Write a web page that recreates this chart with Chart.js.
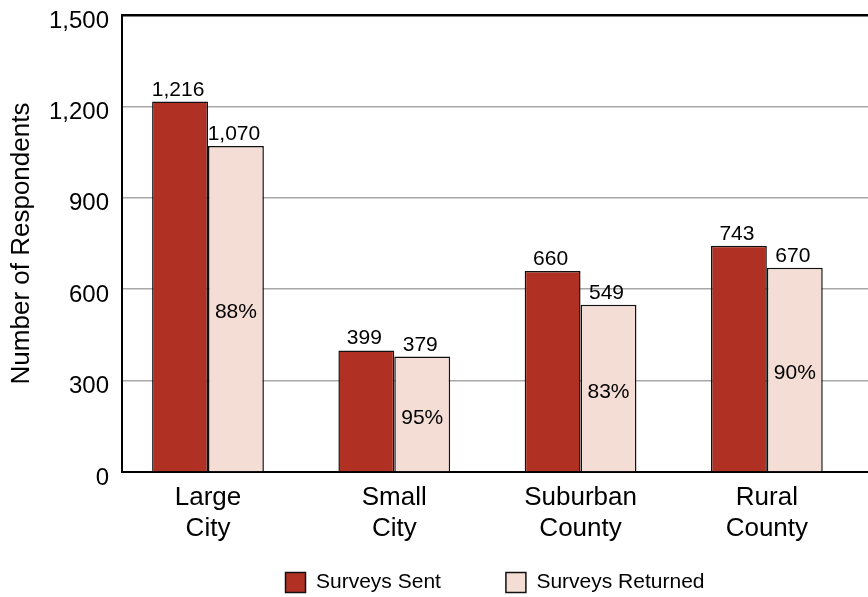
<!DOCTYPE html>
<html>
<head>
<meta charset="utf-8">
<script src="https://cdn.jsdelivr.net/npm/chart.js@4/dist/chart.umd.min.js"></script>
<style>
  html, body { margin: 0; padding: 0; background: #ffffff; }
  #wrap { width: 868px; height: 597px; position: relative; }
</style>
</head>
<body>
<div id="wrap"><canvas id="chart"></canvas></div>
<script>
// Survey counts by community type
const categories = [['Large', 'City'], ['Small', 'City'], ['Suburban', 'County'], ['Rural', 'County']];
const surveysSent = [1216, 399, 660, 743];
const surveysReturned = [1070, 379, 549, 670];
const yTicks = [0, 300, 600, 900, 1200, 1500];

const FONT = "'Liberation Sans', Arial, Helvetica, sans-serif";
const fmt = v => v.toLocaleString('en-US');

// Value labels above each bar, and the return rate inside the returned bars
const barLabels = {
  id: 'barLabels',
  afterDatasetsDraw(chart) {
    const ctx = chart.ctx;
    ctx.save();
    ctx.fillStyle = '#000';
    ctx.textAlign = 'center';
    ctx.font = '21px ' + FONT;
    chart.data.datasets.forEach((ds, di) => {
      const meta = chart.getDatasetMeta(di);
      meta.data.forEach((bar, i) => {
        ctx.textBaseline = 'alphabetic';
        ctx.fillText(fmt(ds.data[i].y), bar.x - 2, bar.y - 6);
        if (di === 1) {
          const pct = Math.round(surveysReturned[i] / surveysSent[i] * 100) + '%';
          ctx.textBaseline = 'middle';
          ctx.fillText(pct, bar.x, (bar.y + bar.base) / 2 + 4);
        }
      });
    });
    ctx.restore();
  }
};

const toPoints = arr => arr.map((v, i) => ({ x: i, y: v }));

new Chart(document.getElementById('chart'), {
  type: 'bar',
  data: {
    datasets: [
      {
        label: 'Surveys Sent',
        data: toPoints(surveysSent),
        backgroundColor: '#b03024',
        borderColor: '#111111',
        borderWidth: 1.5,
        categoryPercentage: 0.6,
        barPercentage: 1.0
      },
      {
        label: 'Surveys Returned',
        data: toPoints(surveysReturned),
        backgroundColor: '#f4ddd5',
        borderColor: '#111111',
        borderWidth: 1.5,
        categoryPercentage: 0.6,
        barPercentage: 1.0
      }
    ]
  },
  options: {
    responsive: true,
    maintainAspectRatio: false,
    animation: false,
    layout: { padding: { top: 15, right: 0, bottom: -6, left: 0 } },
    plugins: {
      tooltip: { enabled: false },
      legend: {
        position: 'bottom',
        fullSize: false,
        labels: {
          boxWidth: 20,
          boxHeight: 20,
          padding: 30,
          color: '#000',
          font: { family: FONT, size: 21 },
          // widen the gap after the first entry without enlarging the legend's height
          generateLabels: chart => {
            const items = Chart.defaults.plugins.legend.labels.generateLabels(chart);
            items.forEach((it, i) => { if (i < items.length - 1) it.text += '      '; });
            return items;
          }
        }
      }
    },
    scales: {
      x: {
        type: 'linear',
        min: -0.4616,
        max: 3.543,
        offset: false,
        grid: { display: false, drawTicks: false },
        border: { display: true, color: '#000', width: 2 },
        afterBuildTicks: scale => { scale.ticks = categories.map((_, i) => ({ value: i })); },
        afterFit: scale => { scale.height = 70; },
        ticks: {
          color: '#000',
          padding: 10,
          maxRotation: 0,
          autoSkip: false,
          font: { family: FONT, size: 26, lineHeight: 1.2 },
          callback: v => categories[v]
        }
      },
      y: {
        min: 0,
        max: 1500,
        afterBuildTicks: scale => { scale.ticks = yTicks.map(v => ({ value: v })); },
        afterFit: scale => {
          scale.width = 122;
          scale.paddingTop = 0;
          scale.paddingBottom = 0;
        },
        grid: {
          drawTicks: false,
          color: ctx => (ctx.tick && ctx.tick.value === 1500) ? '#000' : '#a8a8a8',
          lineWidth: ctx => (ctx.tick && ctx.tick.value === 1500) ? 2.5 : 1.5
        },
        border: { display: true, color: '#000', width: 2 },
        ticks: {
          color: '#000',
          padding: 13,
          labelOffset: 6,
          font: { family: FONT, size: 24 },
          callback: v => fmt(v)
        },
        title: {
          display: true,
          text: 'Number of Respondents',
          color: '#000',
          padding: { top: 6, bottom: 0 },
          font: { family: FONT, size: 26 }
        }
      }
    }
  },
  plugins: [barLabels]
});
</script>
</body>
</html>
